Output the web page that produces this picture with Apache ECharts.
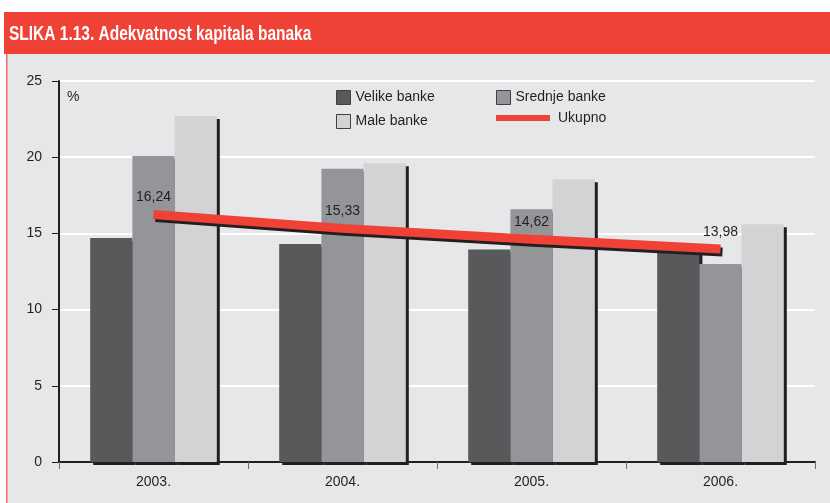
<!DOCTYPE html>
<html>
<head>
<meta charset="utf-8">
<script src="https://cdn.jsdelivr.net/npm/echarts@6/dist/echarts.min.js"></script>
<style>
  html, body { margin: 0; padding: 0; background: #fff; }
  #chart { width: 830px; height: 503px; }
</style>
</head>
<body>
<div id="chart"></div>
<script>
const years = ['2003.', '2004.', '2005.', '2006.'];
const velike = [14.7, 14.3, 13.95, 13.9];
const srednje = [20.08, 19.25, 16.58, 13.0];
const male = [22.7, 19.6, 18.55, 15.6];
const ukupno = [16.24, 15.33, 14.62, 13.98];
const yTicks = [0, 5, 10, 15, 20, 25];

const chart = echarts.init(document.getElementById('chart'));

const barShadow = {
  shadowColor: '#231f20',
  shadowOffsetX: 3,
  shadowOffsetY: 3,
  shadowBlur: 0
};
const noShadow = { shadowBlur: 0, shadowOffsetX: 0, shadowOffsetY: 0, shadowColor: 'transparent', borderColor: '#414042', borderWidth: 1 };
const legendText = { color: '#231f20', fontSize: 14, fontFamily: 'Arial, Liberation Sans, sans-serif' };

const options = {
  animation: false,
  textStyle: { fontFamily: 'Arial, Liberation Sans, sans-serif' },
  graphic: [
    { type: 'rect', shape: { x: 6, y: 54, width: 824, height: 449 }, style: { fill: '#e6e7e8' }, z: -10, silent: true },
    { type: 'rect', shape: { x: 6, y: 54, width: 1.5, height: 449 }, style: { fill: '#f26b63' }, z: -9, silent: true },
    { type: 'rect', shape: { x: 4, y: 12, width: 826, height: 42 }, style: { fill: '#ef4136' }, z: -9, silent: true },
    {
      type: 'text', x: 9, y: 24, scaleX: 0.775, z: 10,
      style: {
        text: 'SLIKA 1.13. Adekvatnost kapitala banaka',
        fill: '#ffffff',
        font: 'bold 20px "Liberation Sans", Arial, sans-serif'
      }
    },
    {
      type: 'text', left: 67, top: 90, z: 10,
      style: { text: '%', fill: '#231f20', font: '14px "Liberation Sans", Arial, sans-serif' }
    }
  ],
  legend: [
    {
      left: 331, top: 85, orient: 'vertical', itemGap: 9,
      itemWidth: 14, itemHeight: 14, icon: 'rect',
      data: ['Velike banke', 'Male banke'],
      itemStyle: noShadow, textStyle: legendText
    },
    {
      left: 491, top: 85,
      itemWidth: 14, itemHeight: 14, icon: 'rect',
      data: ['Srednje banke'],
      itemStyle: noShadow, textStyle: legendText
    },
    {
      left: 491, top: 106,
      itemWidth: 54, itemHeight: 6, itemGap: 10,
      data: [{ name: 'Ukupno', icon: 'rect' }],
      itemStyle: { shadowBlur: 0, shadowOffsetX: 0, shadowOffsetY: 0, borderWidth: 0 },
      textStyle: Object.assign({ padding: [0, 0, 0, 3] }, legendText)
    }
  ],
  grid: { left: 59, right: 15, top: 81, bottom: 41 },
  xAxis: {
    type: 'category',
    data: years,
    axisLine: { lineStyle: { color: '#231f20', width: 2 } },
    axisTick: { show: true, length: 7, lineStyle: { color: '#6d6e71', width: 1 } },
    axisLabel: { color: '#231f20', fontSize: 14, margin: 13 }
  },
  yAxis: {
    type: 'value',
    min: 0, max: 25, interval: 5,
    axisLine: { show: true, lineStyle: { color: '#231f20', width: 2 } },
    axisTick: { show: true, length: 7, lineStyle: { color: '#231f20', width: 1 } },
    axisLabel: {
      color: '#231f20', fontSize: 14, margin: 17,
      formatter: v => yTicks.includes(v) ? String(v) : ''
    },
    splitLine: { show: true, lineStyle: { color: '#ffffff', width: 2 } }
  },
  series: [
    {
      name: 'Velike banke', type: 'bar', data: velike,
      barGap: 0, barCategoryGap: '33%',
      itemStyle: Object.assign({ color: '#58595b' }, barShadow)
    },
    {
      name: 'Srednje banke', type: 'bar', data: srednje,
      barGap: 0, barCategoryGap: '33%',
      itemStyle: Object.assign({ color: '#939598' }, barShadow)
    },
    {
      name: 'Male banke', type: 'bar', data: male,
      barGap: 0, barCategoryGap: '33%',
      itemStyle: Object.assign({ color: '#d1d3d4' }, barShadow)
    },
    {
      name: 'Ukupno', type: 'line', data: ukupno,
      symbol: 'circle', symbolSize: 0, showSymbol: true, z: 5,
      itemStyle: { color: '#ef4136' },
      lineStyle: {
        color: '#ef4136', width: 9, cap: 'butt',
        shadowColor: '#231f20', shadowOffsetX: 2, shadowOffsetY: 3, shadowBlur: 0
      },
      label: {
        show: true, position: 'top', distance: 10,
        color: '#231f20', fontSize: 14,
        formatter: p => p.value.toFixed(2).replace('.', ',')
      },
      labelLayout: { hideOverlap: false }
    }
  ]
};

chart.setOption(options);
</script>
</body>
</html>
